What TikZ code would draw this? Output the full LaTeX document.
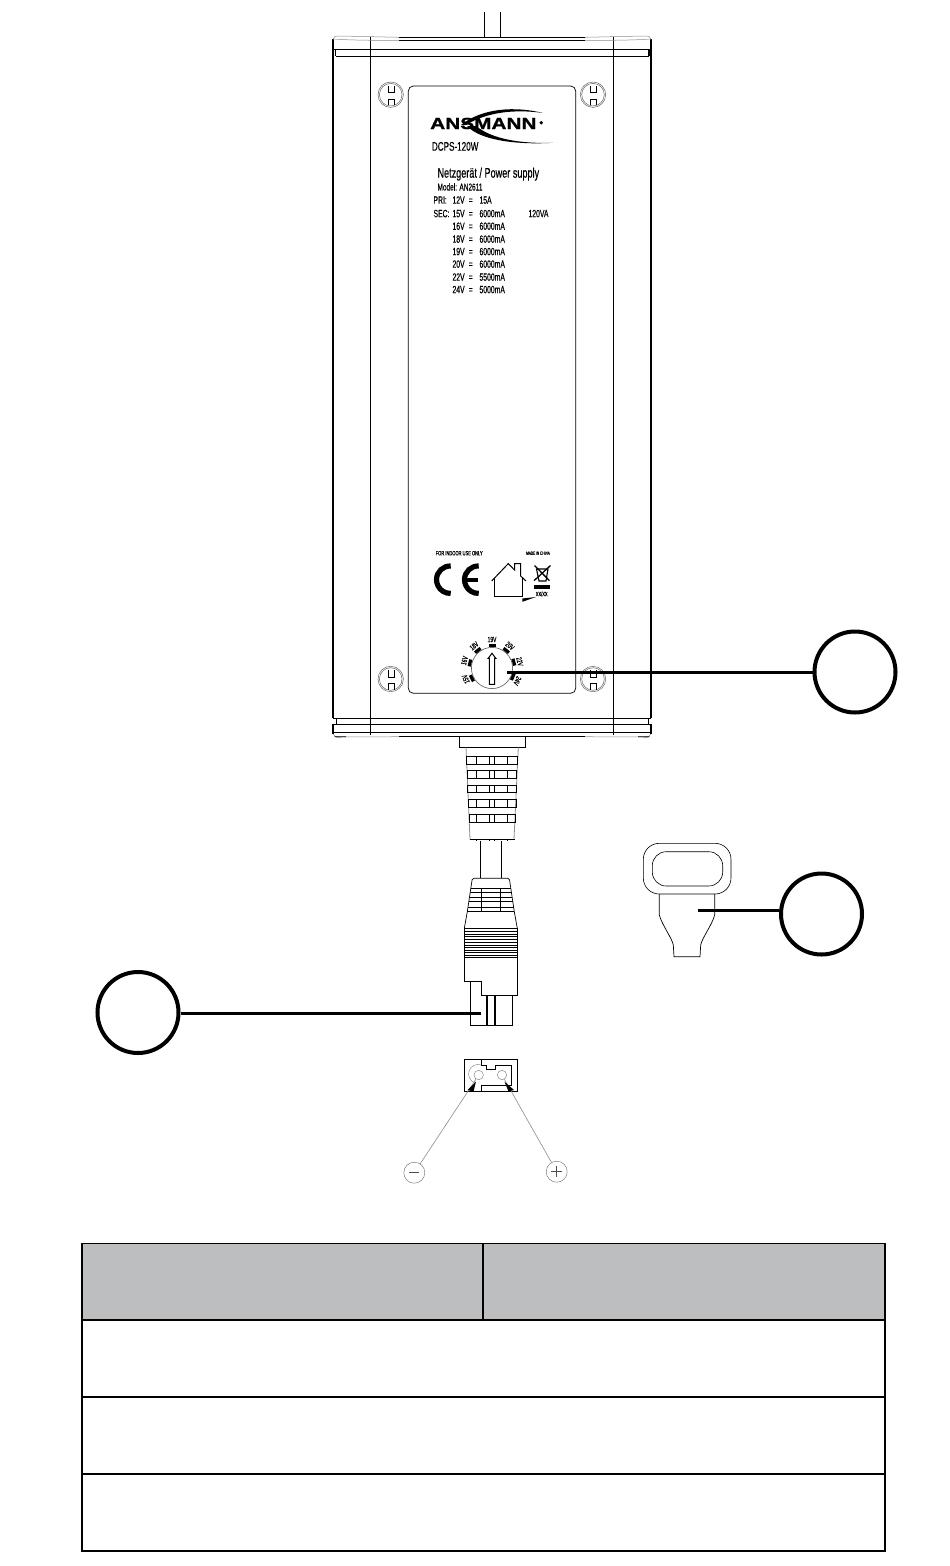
\documentclass[tikz,border=0pt]{standalone}
\usepackage{fontspec}
\usetikzlibrary{calc}
\setmainfont[FakeStretch=0.65,FakeBold=0.35]{Liberation Sans}
\newfontfamily\logofont[FakeStretch=1.3,FakeBold=1.2]{Liberation Sans Bold}
\begin{document}
\begin{tikzpicture}[x=1pt,y=-1pt,
  thinl/.style={line width=0.7pt,black},
  medl/.style={line width=1pt,black},
  thickl/.style={line width=2pt,black},
  grayl/.style={line width=0.5pt,black!45},
  leader/.style={line width=3pt,black},
  callout/.style={circle,draw=black,line width=4pt,minimum size=81pt,inner sep=0pt,fill=none},
  lbl/.style={inner sep=0pt,anchor=base west,font=\fontsize{10.5}{12}\selectfont},
  diallabel/.style={inner sep=0pt,font=\fontsize{7.6}{9}\selectfont},
  polarity/.style={circle,draw=black!50,line width=0.5pt,minimum size=21pt,inner sep=0pt},
  hole/.style={circle,draw=black!45,line width=0.5pt,minimum size=9.4pt,inner sep=0pt},
  tablerow/.style={line width=1.6pt,black}]
\useasboundingbox (0,0) rectangle (950,1566);
\fill[white] (0,0) rectangle (950,1566);

% cable on top
\draw[thinl] (484.7,12) -- (484.7,37);
\draw[thinl] (500.3,12) -- (500.3,37);

% body
\draw[thickl] (333,39) -- (333,718);
\draw[thickl] (651,39) -- (651,718);
\draw[thinl] (370.3,36.5) -- (370.3,735);
\draw[thinl] (613.3,36.5) -- (613.3,735);
\draw[line width=1.4pt] (399,37.3) -- (585,37.3);
\draw[thinl] (399,40.7) -- (585,40.7);
\draw[grayl] (333,39.5) .. controls (333.5,36.5) and (335,36) .. (340,36) -- (399,37.3);
\draw[grayl] (333,39) .. controls (350,40) .. (399,40.7);
\draw[grayl] (651,39.5) .. controls (650.5,36.5) and (649,36) .. (644,36) -- (585,37.3);
\draw[grayl] (651,39) .. controls (634,40) .. (585,40.7);
\draw[medl] (333,49.3) -- (651,49.3);
\draw[medl] (335.5,56) -- (648.5,56);
\draw[medl] (335.5,49.3) -- (335.5,56);
\draw[thickl] (648.8,49.3) -- (648.8,56);
% bottom band
\draw[medl] (333,718.3) -- (651,718.3);
\draw[thinl] (336.3,718.3) -- (336.3,724.3);
\draw[thinl] (648,718.3) -- (648,724.3);
\draw[medl] (333,724.3) -- (651,724.3);
\draw[thickl] (333,724.3) -- (333,734);
\draw[thickl] (651,724.3) -- (651,734);
\draw[medl] (399,732.3) -- (585,732.3);
\draw[thinl] (333,732.3) -- (651,732.3);
\draw[medl] (399,736.7) -- (585,736.7);
\draw[grayl] (333,734) .. controls (334,736.5) and (336,737) .. (340,737) -- (399,736.7);
\draw[grayl] (651,734) .. controls (650,736.5) and (648,737) .. (644,737) -- (585,736.7);
\fill[black] (334,736.3) -- (346,736.3) -- (346,737) -- (336,737.4) -- cycle;
\fill[black] (650,736.3) -- (638,736.3) -- (638,737) -- (648,737.4) -- cycle;

% label panel
\draw[thinl,rounded corners=5pt] (408.3,86) rectangle (575.7,693.3);

% screws
\foreach \sx/\sy in {390.7/94.7,593/94.7,390.7/679,593/679}{
  \draw[black!60,line width=0.5pt] (\sx,\sy) circle (12.7);
  \draw[black!60,line width=0.5pt] (\sx,\sy) circle (11.3);
  \draw[thinl] (\sx-2.5,\sy-8.7) -- (\sx-2.5,\sy-2) -- (\sx+3.2,\sy-2) -- (\sx+3.2,\sy-8.7);
  \draw[thinl] (\sx-2.5,\sy+10.7) -- (\sx-2.5,\sy+4.3) -- (\sx+3.2,\sy+4.3) -- (\sx+3.2,\sy+10.7);
}

% logo
\fill[black] (461,125) .. controls (482,108) and (515,106) .. (543,113)
  .. controls (515,109) and (487,112) .. (466,125) -- cycle;
\fill[black] (467,126) .. controls (480,140) and (515,145) .. (553,142.8)
  .. controls (520,143.8) and (492,139) .. (476,126) -- cycle;
\node[inner sep=0pt,anchor=base west] (logotext) at (430,129)
  {\logofont\fontsize{16}{18}\selectfont ANSMANN};
\fill[black] (541.2,122.8) circle (1.9);

% ratings
\node[lbl,font=\fontsize{12.5}{14}\selectfont] (model) at (431.7,150.7) {DCPS-120W};
\node[lbl,font=\fontsize{14}{16}\selectfont] (title) at (437.3,177.7) {Netzgerät / Power supply};
\node[lbl,font=\fontsize{10}{12}\selectfont] (modelno) at (437.3,190.5) {Model: AN2611};
\node[lbl] (pri) at (433.3,203.7) {PRI:};
\node[lbl] (sec) at (433.3,217.2) {SEC:};
\node[lbl] (v12) at (452.3,203.7) {12V};
\node[lbl] (eq12) at (468.5,203.7) {=};
\node[lbl] (a15) at (479.3,203.7) {15A};
\node[lbl] (va) at (528.3,217.2) {120VA};
\foreach \yy/\vv/\aa in {217.2/15V/6000mA,229.8/16V/6000mA,242.7/18V/6000mA,255.2/19V/6000mA,267.7/20V/6000mA,280.7/22V/5500mA,293.2/24V/5000mA}{
  \node[lbl] at (452.3,\yy) {\vv};
  \node[lbl] at (468.5,\yy) {=};
  \node[lbl] at (479.3,\yy) {\aa};
}

% small print and marks
\node[inner sep=0pt,font=\fontsize{6.2}{7}\selectfont] (indoor) at (459.2,553.2) {FOR INDOOR USE ONLY};
\node[inner sep=0pt,font=\fontsize{4.8}{5}\selectfont] (made) at (538,553.2) {MADE IN CHINA};
\draw[line width=5.2pt,black] (450.7,566) arc (-88:-272:13.7);
\draw[line width=5.2pt,black] (478.7,566) arc (-88:-272:13.7);
\draw[line width=3.6pt,black] (465,579.7) -- (478,579.7);
% house
\draw[medl,line join=miter] (491.7,581) -- (508.3,563.6) -- (514.5,570) -- (514.5,563.6) -- (520.7,563.6) -- (520.7,576) -- (526,581);
\draw[medl] (494.7,578) -- (494.7,596) -- (522.3,596) -- (522.3,577);
\fill[black] (522.3,598.5) -- (536,597) -- (522.3,601.8) -- cycle;
% bin
\draw[line width=1.3pt] (534.5,565.5) -- (549.5,580.7);
\draw[line width=1.3pt] (550.5,565.5) -- (534,580.7);
\draw[line width=1.1pt] (536.5,569) -- (548,569) -- (546,581) -- (539,581) -- cycle;
\fill[black] (534,585) rectangle (550,589.3);
\node[inner sep=0pt,font=\fontsize{6.2}{7}\selectfont] (date) at (541.7,594) {XX/XX};

% dial
\draw[black!65,line width=0.6pt] (492,668) circle (20.6);
\draw[medl] (492,653.3) -- (495.8,658.3) -- (494.6,658.3) -- (494.6,684.3) -- (489.4,684.3) -- (489.4,658.3) -- (488.2,658.3) -- cycle;
\foreach \ang/\txt in {113/15V,75/16V,39/18V,0/19V,-39/20V,-77/22V,-117/24V}{
  \node[diallabel,rotate=\ang] at ($(492,668)+(90-\ang:-28.5)$) {\txt};
}
\foreach \ang in {113,75,39,0,-39,-77,-117}{
  \fill[black,rotate around={-\ang:(492,668)}] (488.5,643.8) rectangle (495.5,647);
}

% strain relief
\draw[medl] (459.3,736.7) rectangle (525.7,747.3);
\draw[grayl,line width=0.8pt] (466,747.3) -- (470,839.3);
\draw[grayl,line width=0.8pt] (518.3,747.3) -- (514,839.3);
\foreach \ya/\yb/\xa/\xb in {756.7/764/466.3/517,770.7/778.3/467/516.7,785.3/792.7/467.7/516.3,799.3/807.3/468.3/516,814.7/822.3/469/515.3}{
  \draw[medl] (\xa,\ya) rectangle (\xb,\yb);
  \foreach \vx in {476.3,489.3,494.3,507.3}{\draw[thinl] (\vx,\ya) -- (\vx,\yb);}
}
\draw[thinl] (469.5,839.3) -- (515,839.3);
\foreach \vx in {476.3,489.3,494.3,507.3}{\draw[thinl] (\vx,839.3) -- (\vx,841);}

% cord
\draw[medl] (480.3,841) -- (480.3,878.3);
\draw[medl] (501.7,841) -- (501.7,878.3);

% plug
\draw[thinl,rounded corners=1.5pt] (467.3,911.7) -- (472.3,878.3) -- (509.3,878.3) -- (514.3,911.7);
\foreach \yy/\aa/\bb in {888.3/470.5/511.2,892.7/470/511.7,897/469.3/512.3,901.7/468.8/512.8,907.3/468/513.5}{
  \draw[thinl] (\aa,\yy) -- (\bb,\yy);
}
\draw[thinl] (481.7,888.3) -- (481.7,911.7);
\draw[thinl] (500.7,888.3) -- (500.7,911.7);
\draw[line width=1.4pt] (467.3,911.7) -- (514.3,911.7);
\draw[thinl] (467.3,911.7) -- (464.3,928.3);
\draw[thinl] (514.3,911.7) -- (517.3,928.3);
\foreach \yy in {928.3,931.7,934,936.7,939.3,942,945,947.7,950,952.7,955,957.7}{
  \draw[thinl] (464.3,\yy) -- (517.3,\yy);
}
\draw[medl] (517.3,928.3) -- (517.3,995.3) -- (481.3,995.3) -- (481.3,981.3) -- (464.3,981.3) -- (464.3,928.3);
\draw[medl] (470.3,981.3) -- (470.3,1025.3) -- (512.3,1025.3) -- (512.3,995.3);
\draw[line width=1.7pt] (487,995.3) -- (487,1025.3);
\draw[line width=1.7pt] (495,995.3) -- (495,1025.3);

% socket face
\draw[line width=1.2pt] (464.3,1059.3) rectangle (517.3,1091.3);
\draw[medl] (481.3,1059.3) -- (481.3,1065) -- (486.7,1065) -- (486.7,1069.3) -- (495,1069.3) -- (495,1065) -- (511,1065) -- (511,1085) -- (481.3,1085) -- (481.3,1091.3);
\draw[black!45,line width=0.5pt] (481.3,1065) arc (-70:-250:9.5);
\node[hole] (holeminus) at (478.7,1075) {};
\node[hole] (holeplus) at (502,1075) {};
\node[polarity] (minus) at (414.3,1172.7) {};
\node[polarity] (plus) at (556.7,1171.7) {};
\draw[medl,black!70] ($(minus.center)+(-5,0)$) -- ($(minus.center)+(5,0)$);
\draw[medl,black!70] ($(plus.center)+(-5.5,0)$) -- ($(plus.center)+(5.5,0)$);
\draw[medl,black!70] ($(plus.center)+(0,-5.5)$) -- ($(plus.center)+(0,5.5)$);
\draw[grayl,line width=0.6pt] (holeminus) -- (minus);
\draw[grayl,line width=0.6pt] (holeplus) -- (plus);
\fill[black] (476,1081.7) -- (467.5,1090) -- (473.5,1091.5) -- cycle;
\fill[black] (504.5,1081.7) -- (508.5,1091.5) -- (514,1090) -- cycle;

% grip
\draw[black,line width=0.6pt,rounded corners=16pt] (643.3,843.3) rectangle (731,894);
\draw[black,line width=0.6pt,rounded corners=14pt] (652.3,851.7) rectangle (722.7,886);
\draw[thinl] (659.3,894) -- (659.3,915) .. controls (662,925) and (672,938) .. (673.3,945) -- (674,956.7) -- (700,956.7) -- (700.7,945) .. controls (702,938) and (712,925) .. (714.7,915) -- (714.7,894);

% callouts
\node[callout] (c1) at (855,672) {};
\node[callout] (c2) at (821.5,914) {};
\node[callout] (c3) at (138,1012.5) {};
\coordinate (dialend) at (507,672.3);
\coordinate (gripend) at (698.3,910.5);
\coordinate (plugend) at (480.7,1013.3);
\draw[leader] (dialend) -- (dialend -| c1.west);
\draw[leader] (gripend) -- (gripend -| c2.west);
\draw[leader] (plugend) -- (plugend -| c3.east);

% table
\definecolor{headgray}{RGB}{189,190,192}
\fill[headgray] (82,1243.5) rectangle (885,1320);
\draw[tablerow] (82,1243.5) rectangle (885,1551);
\draw[tablerow] (483,1243.5) -- (483,1320);
\draw[tablerow] (82,1320) -- (885,1320);
\draw[tablerow] (82,1397) -- (885,1397);
\draw[tablerow] (82,1474) -- (885,1474);
\end{tikzpicture}
\end{document}
